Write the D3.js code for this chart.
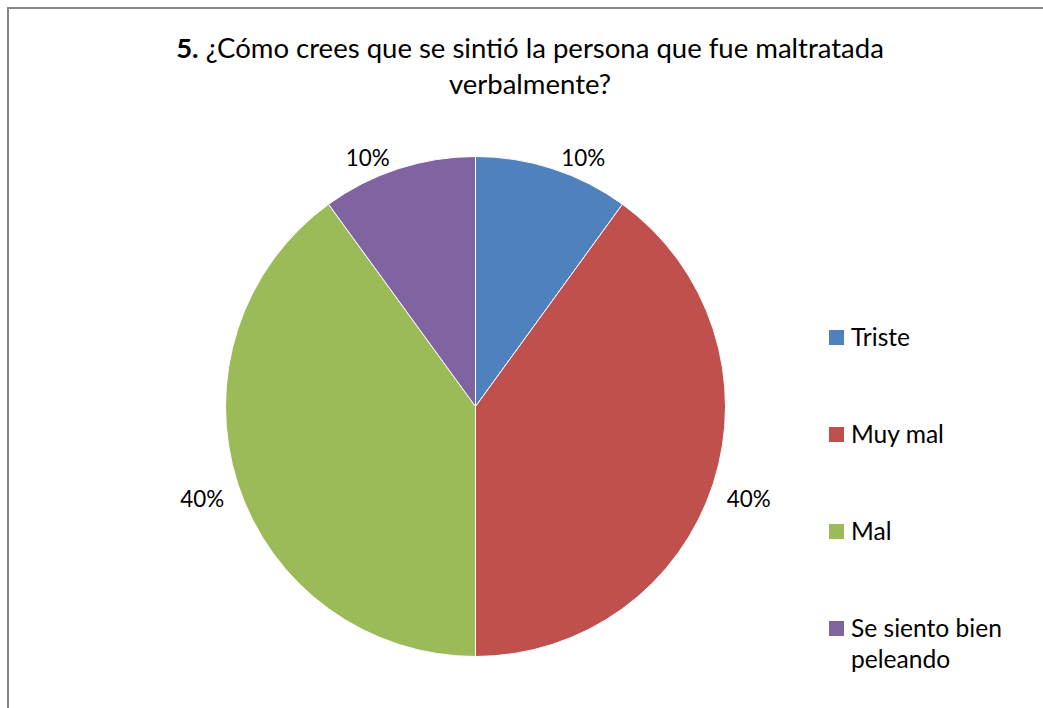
<!DOCTYPE html>
<html><head><meta charset="utf-8">
<script src="https://cdn.jsdelivr.net/npm/d3@7"></script>
<style>body{margin:0;background:#fff}svg{display:block}text{font-family:Lato,"Open Sans",sans-serif;fill:#000}</style>
</head><body>
<svg id="c" width="1043" height="708"></svg>
<script>
const categories = ["Triste", "Muy mal", "Mal", "Se siento bien peleando"];
const legendLines = [["Triste"], ["Muy mal"], ["Mal"], ["Se siento bien", "peleando"]];
const values = [10, 40, 40, 10];
const labels = ["10%", "40%", "40%", "10%"];
const colors = ["#4F81BD", "#C0504D", "#9BBB59", "#8064A2"];
const titleBold = "5.";
const titleRest = " ¿Cómo crees que se sintió la persona que fue maltratada";
const titleLine2 = "verbalmente?";

const svg = d3.select("#c");
svg.append("rect").attr("x", 8).attr("y", 8).attr("width", 1100).attr("height", 800)
  .attr("fill", "#fff").attr("stroke", "#878787").attr("stroke-width", 2);

function fitSize(str, target, weight) {
  const t = svg.append("text").attr("font-size", 20).attr("font-weight", weight || "normal").text(str);
  const w = t.node().getComputedTextLength(); t.remove();
  return 20 * target / w;
}

// Title
const tSize = fitSize(titleBold + titleRest, 708);
const t1 = svg.append("text").attr("x", 530).attr("y", 58).attr("text-anchor", "middle").attr("font-size", tSize);
t1.append("tspan").attr("font-weight", "bold").text(titleBold);
t1.append("tspan").text(titleRest);
svg.append("text").attr("x", 530).attr("y", 94).attr("text-anchor", "middle").attr("font-size", tSize).text(titleLine2);

// Pie
const cx = 475.5, cy = 406.5, r = 250;
const g = svg.append("g").attr("transform", `translate(${cx},${cy})`);
const pie = d3.pie().sort(null).value(d => d)(values);
const arc = d3.arc().innerRadius(0).outerRadius(r);
g.selectAll("path").data(pie).join("path").attr("d", arc)
  .attr("fill", (d, i) => colors[i]).attr("stroke", "#fff").attr("stroke-width", 1);

// Data labels
const lSize = fitSize("10%", 44);
pie.forEach((d, i) => {
  const a = (d.startAngle + d.endAngle) / 2;
  const sx = Math.sin(a), sy = -Math.cos(a);
  const gap = 8;
  const px = (r + gap) * sx, py = (r + gap) * sy;
  const t = g.append("text").attr("font-size", lSize).attr("text-anchor", "middle").text(labels[i]);
  const bb = t.node().getBBox();
  const hw = bb.width / 2, hh = lSize * 0.36;
  const x = px + Math.sign(sx) * (hw + 6);
  const y = py + Math.sign(sy) * hh + 5;
  t.attr("x", x).attr("y", y + lSize * 0.36);
});

// Legend
const legSize = fitSize("Se siento bien", 151);
const ly = d3.scalePoint().domain(categories).range([337.5, 628.5]);
categories.forEach((c, i) => {
  const y = ly(c);
  svg.append("rect").attr("x", 829).attr("y", y - 7.5).attr("width", 15).attr("height", 15).attr("fill", colors[i]);
  const t = svg.append("text").attr("x", 851).attr("y", y + 8).attr("font-size", legSize);
  legendLines[i].forEach((ln, k) => t.append("tspan").attr("x", 851).attr("dy", k ? 31 : 0).text(ln));
});
</script>
</body></html>
